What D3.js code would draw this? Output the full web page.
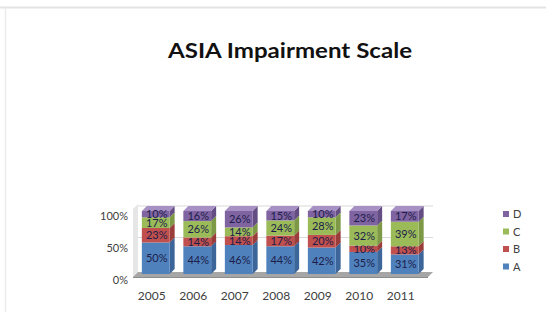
<!DOCTYPE html>
<html>
<head>
<meta charset="utf-8">
<script src="https://cdn.jsdelivr.net/npm/d3@7"></script>
<style>
  body { margin: 0; background: #fff; }
  svg { display: block; font-family: Lato, "Liberation Sans", sans-serif; }
</style>
</head>
<body>
<svg></svg>
<script>
// data
const years = ["2005", "2006", "2007", "2008", "2009", "2010", "2011"];
const seriesNames = ["A", "B", "C", "D"];
const valA = [50, 44, 46, 44, 42, 35, 31];
const valB = [23, 14, 14, 17, 20, 10, 13];
const valC = [17, 26, 14, 24, 28, 32, 39];
const valD = [10, 16, 26, 15, 10, 23, 17];
const yTicks = [0, 0.5, 1];
const title = "ASIA Impairment Scale";

const colors = { A: "#4f81bd", B: "#c0504d", C: "#9bbb59", D: "#8064a2" };
const sides = { A: "#3c6699", B: "#9a3c3a", C: "#7d9946", D: "#644d82" };
const tops = { A: "#7ea3d4", B: "#d9807e", C: "#b9d489", D: "#a690c4" };

const width = 546, height = 312;
const dx = 5, dy = -5;

const svg = d3.select("svg").attr("width", width).attr("height", height);

// outer frame lines
svg.append("line").attr("x1", 0).attr("x2", width).attr("y1", 7.5).attr("y2", 7.5)
  .attr("stroke", "#e3e3e3").attr("stroke-width", 2);
svg.append("line").attr("x1", 5.5).attr("x2", 5.5).attr("y1", 7).attr("y2", height)
  .attr("stroke", "#ececec").attr("stroke-width", 1.5);

// title
svg.append("text")
  .attr("x", 290).attr("y", 58)
  .attr("text-anchor", "middle")
  .attr("font-size", 21).attr("font-weight", "bold")
  .attr("textLength", 244).attr("lengthAdjust", "spacingAndGlyphs")
  .attr("fill", "#111")
  .text(title);

// stack the data
const rows = years.map((yr, i) => ({ year: yr, A: valA[i] / 100, B: valB[i] / 100, C: valC[i] / 100, D: valD[i] / 100 }));
const stack = d3.stack().keys(seriesNames)(rows);

const x = d3.scaleBand().domain(years).range([135, 425.5])
  .paddingInner(0.33).paddingOuter(0.165);
const y = d3.scaleLinear().domain([0, 1]).range([274, 211]);
const bw = x.bandwidth();

// walls and floor
const x0 = 133, x1 = 428;
const floorY = 277;
svg.append("polygon")
  .attr("points", [[x0, y(1) - 2], [x0 + dx, y(1) - 2 + dy], [x0 + dx, floorY + dy], [x0, floorY]].join(" "))
  .attr("fill", "#e6e6e6");
svg.append("rect")
  .attr("x", x0 + dx).attr("y", y(1) - 2 + dy)
  .attr("width", x1 - x0).attr("height", floorY - y(1) + 2)
  .attr("fill", "#fff");
svg.selectAll(".grid").data(yTicks.slice(1)).enter().append("line")
  .attr("class", "grid")
  .attr("x1", x0 + dx).attr("x2", x1 + dx)
  .attr("y1", d => y(d) + dy).attr("y2", d => y(d) + dy)
  .attr("stroke", "#d9d9d9");
svg.append("polygon")
  .attr("points", [[x0, floorY], [x1, floorY], [x1 + dx, floorY + dy], [x0 + dx, floorY + dy]].join(" "))
  .attr("fill", "#a6a6a6");
svg.append("line")
  .attr("x1", x0).attr("x2", x1).attr("y1", floorY + 0.5).attr("y2", floorY + 0.5)
  .attr("stroke", "#8c8c8c");

// bars
const layer = svg.selectAll(".layer").data(stack).enter().append("g").attr("class", "layer");
layer.each(function (s) {
  const g = d3.select(this);
  const key = s.key;
  g.selectAll(".side").data(s).enter().append("polygon")
    .attr("points", d => {
      const xr = x(d.data.year) + bw;
      return [[xr, y(d[1])], [xr + dx, y(d[1]) + dy], [xr + dx, y(d[0]) + dy], [xr, y(d[0])]].join(" ");
    })
    .attr("fill", sides[key]);
  g.selectAll(".front").data(s).enter().append("rect")
    .attr("x", d => x(d.data.year))
    .attr("y", d => y(d[1]))
    .attr("width", bw)
    .attr("height", d => y(d[0]) - y(d[1]))
    .attr("fill", colors[key]);
  if (key === "D") {
    g.selectAll(".top").data(s).enter().append("polygon")
      .attr("points", d => {
        const xl = x(d.data.year), yt = y(d[1]);
        return [[xl, yt], [xl + dx, yt + dy], [xl + bw + dx, yt + dy], [xl + bw, yt]].join(" ");
      })
      .attr("fill", tops[key]);
  }
  g.selectAll(".lbl").data(s).enter().append("text")
    .attr("x", d => x(d.data.year) + bw / 2 + 1)
    .attr("y", d => (y(d[0]) + y(d[1])) / 2 + 4)
    .attr("text-anchor", "middle")
    .attr("font-size", 11)
    .attr("fill", "#1d1d4a")
    .text(d => Math.round((d[1] - d[0]) * 100) + "%");
});

// axes
const yl = d3.scaleLinear().domain([0, 1]).range([280, 216]);
svg.append("g")
  .attr("transform", "translate(128,0)")
  .call(d3.axisLeft(yl).tickValues(yTicks).tickSize(0).tickPadding(0).tickFormat(d3.format(".0%")))
  .call(g => g.select(".domain").remove())
  .call(g => g.selectAll("text").attr("font-size", 11).attr("fill", "#404040").attr("font-family", "Lato, sans-serif"));

svg.append("g")
  .attr("transform", "translate(-4,289)")
  .call(d3.axisBottom(x).tickSize(0).tickPadding(2))
  .call(g => g.select(".domain").remove())
  .call(g => g.selectAll("text").attr("font-size", 12).attr("fill", "#404040").attr("font-family", "Lato, sans-serif"));

// legend
const legend = svg.selectAll(".leg").data(seriesNames.slice().reverse()).enter().append("g")
  .attr("class", "leg")
  .attr("transform", (d, i) => `translate(503,${211 + i * 17.5})`);
legend.append("rect").attr("width", 6).attr("height", 6).attr("fill", d => colors[d]);
legend.append("text").attr("x", 10).attr("y", 7)
  .attr("font-size", 11).attr("fill", "#404040").text(d => d);
</script>
</body>
</html>
